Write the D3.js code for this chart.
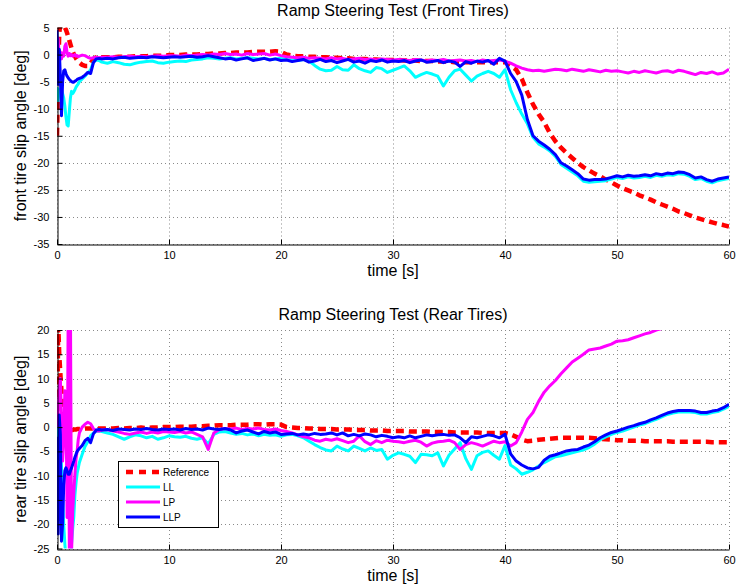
<!DOCTYPE html>
<html>
<head>
<meta charset="utf-8">
<script src="https://cdn.jsdelivr.net/npm/d3@7/dist/d3.min.js"></script>
<style>
  body { margin: 0; background: #fff; }
  svg text { font-family: "Liberation Sans", Arial, Helvetica, sans-serif; fill: #000; }
</style>
</head>
<body>
<svg id="chart" width="736" height="586"></svg>
<script>
// Sample times [s]: dense during the start-up transient, then every 0.5 s
const time = [
  0, 0.1, 0.2, 0.3, 0.4, 0.5, 0.6, 0.7, 0.8, 0.9, 1.0, 1.1, 1.2, 1.3, 1.4, 1.5, 1.6, 1.7, 1.8, 1.9, 2.0,
  2.25, 2.5, 2.75, 3.0, 3.25, 3.5, 3.75, 4.0,
  4.5, 5, 5.5, 6, 6.5, 7, 7.5, 8, 8.5, 9, 9.5, 10,
  10.5, 11, 11.5, 12, 12.5, 13, 13.5, 14, 14.5, 15, 15.5, 16, 16.5, 17, 17.5, 18, 18.5, 19, 19.5, 20,
  20.5, 21, 21.5, 22, 22.5, 23, 23.5, 24, 24.5, 25, 25.5, 26, 26.5, 27, 27.5, 28, 28.5, 29, 29.5, 30,
  30.5, 31, 31.5, 32, 32.5, 33, 33.5, 34, 34.5, 35, 35.5, 36, 36.5, 37, 37.5, 38, 38.5, 39, 39.5, 40,
  40.5, 41, 41.5, 42, 42.5, 43, 43.5, 44, 44.5, 45, 45.5, 46, 46.5, 47, 47.5, 48, 48.5, 49, 49.5, 50,
  50.5, 51, 51.5, 52, 52.5, 53, 53.5, 54, 54.5, 55, 55.5, 56, 56.5, 57, 57.5, 58, 58.5, 59, 59.5, 60
];

// Front tire slip angle [deg]
const frontRef = [
  -15, -5, 4, 5.5, 5.5, 5.5, 5.3, 5, 4.6, 4, 3.3, 2.6, 1.9, 1.2, 0.6, 0.1, -0.3, -0.7, -1.0, -1.3, -1.5,
  -1.9, -2.1, -2.1, -1.6, -0.8, -0.5, -0.5, -0.5,
  -0.5, -0.5, -0.4, -0.4, -0.4, -0.3, -0.3, -0.3, -0.2, -0.2, -0.2, -0.1,
  -0.1, -0.1, 0, 0, 0, 0.1, 0.1, 0.2, 0.2, 0.3, 0.3, 0.4, 0.4, 0.4, 0.5, 0.5, 0.5, 0.5, 0.6, 0.5,
  0, -0.2, -0.3, -0.3, -0.4, -0.4, -0.5, -0.5, -0.6, -0.6, -0.7, -0.7, -0.8, -0.8, -0.8, -0.9, -0.9, -1.0, -1.0, -1.0,
  -1.0, -1.1, -1.1, -1.1, -1.2, -1.2, -1.2, -1.3, -1.3, -1.3, -1.4, -1.4, -1.4, -1.4, -1.4, -1.4, -1.4, -1.4, -1.4, -1.4,
  -2.0, -2.8, -4.5, -7.0, -9.2, -11.0, -12.5, -14.5, -16.0, -17.2, -18.2, -19.1, -20.0, -20.8, -21.4, -22.0, -22.5, -23.1, -23.6, -24.2,
  -24.7, -25.1, -25.5, -26.0, -26.4, -26.8, -27.3, -27.7, -28.1, -28.5, -29.0, -29.3, -29.7, -30.1, -30.4, -30.7, -31.0, -31.3, -31.5, -31.8
];
const frontLL = [
  -6, -8.5, -6.5, -7.5, -6.5, -7.2, -8.0, -9.5, -11.5, -13.0, -13.2, -10.5, -8.0, -6.8, -7.2, -6.9, -6.5, -6.0, -5.7, -5.4, -5.0,
  -4.5, -4.0, -3.4, -2.8, -1.4, -1.0, -1.1, -1.4,
  -1.6, -1.3, -1.5, -1.8, -1.9, -1.6, -1.4, -1.3, -1.2, -1.5, -1.6, -1.4,
  -1.3, -1.2, -1.3, -1.0, -0.9, -0.8, -0.6, -0.7, -0.8, -0.7, -0.6, -0.8, -0.7, -0.6, -0.7, -0.8, -0.7, -0.9, -0.8, -0.7,
  -0.9, -1.0, -1.1, -0.9, -1.2, -2.0, -2.7, -3.0, -2.9, -2.2, -2.8, -2.9, -1.9, -2.6, -3.0, -3.3, -2.4, -2.6, -3.3, -2.9,
  -2.5, -2.1, -3.0, -4.2, -3.7, -3.3, -3.6, -4.0, -5.8, -4.2, -3.0, -2.7, -3.8, -4.9, -4.0, -3.5, -3.1, -3.5, -4.2, -2.8,
  -6.5, -8.9, -11.0, -12.8, -15.3, -16.5, -17.1, -17.8, -18.8, -20.3, -21.0, -21.7, -22.4, -23.4, -23.6, -23.5, -23.4, -23.3, -23.0, -22.7,
  -22.9, -22.6, -22.8, -22.7, -22.5, -22.7, -22.3, -22.5, -22.2, -22.3, -22.0, -22.1, -22.5, -23.1, -22.9, -23.4, -23.7, -23.3, -23.1, -22.9
];
const frontLP = [
  1.0, 3.0, -0.5, 0.5, -0.8, 0.3, -0.3, 1.5, 2.0, 0.3, -0.3, 0.2, -0.2, 0.0, -0.3, -0.2, 0.0, -0.3, -0.2, -0.4, -0.3,
  -0.1, -0.2, -0.5, -0.7, -0.6, -0.5, -0.6, -0.5,
  -0.5, -0.4, -0.5, -0.4, -0.3, -0.4, -0.3, -0.4, -0.3, -0.2, -0.3, -0.2,
  -0.2, -0.3, -0.1, -0.2, -0.1, 0, -0.1, 0.1, 0, 0.2, 0, 0.1, -0.1, 0.2, 0, 0.1, 0.2, -0.1, 0.1, -0.2,
  -0.4, -0.5, -0.6, -0.5, -0.7, -0.6, -0.7, -0.8, -0.6, -0.8, -0.7, -0.9, -0.8, -0.7, -0.9, -0.8, -1.0, -0.8, -0.9, -1.0,
  -0.9, -1.0, -1.1, -0.9, -1.0, -1.2, -1.0, -1.1, -0.9, -1.2, -1.1, -1.0, -1.2, -1.1, -1.3, -1.0, -1.2, -1.1, -1.0, -1.2,
  -1.6, -2.1, -2.5, -2.8, -3.0, -2.9, -3.1, -2.9, -2.7, -2.8, -3.0, -2.7, -2.9, -3.1, -2.8, -3.0, -3.2, -2.9, -3.1, -3.0,
  -3.2, -3.4, -3.1, -3.3, -3.0, -3.2, -3.4, -3.1, -3.0, -3.3, -2.9, -3.1, -3.4, -3.7, -3.3, -3.5, -3.2, -3.6, -3.4, -2.7
];
const frontLLP = [
  4.5, -5.5, 1.0, -4.0, -11.3, -5.0, -3.0, -2.8, -3.5, -4.0, -4.3, -4.6, -4.8, -5.0, -5.1, -5.1, -4.9, -4.8, -4.6, -4.5, -4.4,
  -4.2, -3.8, -3.3, -3.5, -1.5, -0.8, -0.7, -0.8,
  -0.7, -0.8, -0.6, -0.5, -0.7, -0.6, -0.5, -0.6, -0.4, -0.5, -0.6, -0.5,
  -0.4, -0.5, -0.4, -0.3, -0.5, -0.4, -0.2, -0.4, -0.6, -0.8, -0.7, -1.0, -0.8, -0.6, -1.1, -0.9, -0.7, -1.0, -0.8, -1.1,
  -1.0, -1.3, -1.1, -0.9, -1.4, -1.2, -0.9, -1.3, -1.1, -1.5, -1.2, -0.9, -1.4, -1.2, -1.6, -1.1, -1.3, -1.0, -1.4, -1.2,
  -1.3, -1.1, -1.5, -1.2, -1.0, -1.4, -1.3, -1.1, -1.5, -1.2, -1.4, -2.2, -1.3, -1.6, -1.2, -1.4, -1.1, -1.8, -0.7, -1.2,
  -3.5, -5.0, -7.5, -12.0, -15.0, -16.0, -16.7, -17.5, -18.5, -20.0, -20.6, -21.3, -22.0, -23.0, -23.2, -23.1, -23.1, -23.0, -22.7, -22.4,
  -22.6, -22.3, -22.5, -22.4, -22.2, -22.4, -22.0, -22.2, -21.9, -22.0, -21.7, -21.8, -22.2, -22.8, -22.6, -23.1, -23.4, -23.0, -22.8, -22.6
];

// Rear tire slip angle [deg]
const rearRef = [
  -18, 22, 15, 11, 7.4, 3.5, 1.0, -0.3, -0.8, -0.9, -0.8, -0.7, -0.7, -0.6, -0.6, -0.5, -0.5, -0.5, -0.4, -0.4, -0.4,
  -0.4, -0.3, -0.3, -0.3, -0.3, -0.3, -0.3, -0.3,
  -0.3, -0.3, -0.2, -0.3, -0.2, -0.2, -0.1, -0.2, -0.1, -0.1, 0, 0,
  0, 0.1, 0.1, 0.1, 0.2, 0.2, 0.3, 0.3, 0.4, 0.4, 0.4, 0.5, 0.5, 0.5, 0.6, 0.6, 0.5, 0.6, 0.6, 0.5,
  0, -0.1, -0.2, -0.2, -0.3, -0.3, -0.4, -0.4, -0.4, -0.5, -0.5, -0.5, -0.6, -0.6, -0.6, -0.7, -0.7, -0.7, -0.8, -0.8,
  -0.8, -0.8, -0.9, -0.9, -0.9, -0.9, -1.0, -1.0, -1.0, -1.0, -1.1, -1.1, -1.1, -1.1, -1.1, -1.2, -1.2, -1.2, -1.2, -1.2,
  -1.5, -2.0, -2.6, -2.9, -2.8, -2.6, -2.5, -2.4, -2.3, -2.2, -2.2, -2.2, -2.2, -2.2, -2.2, -2.3, -2.4, -2.5, -2.6, -2.7,
  -2.7, -2.8, -2.8, -2.8, -2.9, -2.9, -2.9, -2.9, -2.9, -3.0, -3.0, -3.0, -3.0, -3.0, -3.0, -3.0, -3.1, -3.1, -3.1, -3.1
];
const rearLL = [
  1.0, -3.5, 2.0, -2.0, -8.0, -14.0, -20.0, -24.0, -27, -27, -27, -27, -27, -24.0, -21.0, -18.5, -14.0, -11.5, -9.5, -8.4, -7.3,
  -5.6, -4.0, -3.0, -1.8, -1.2, -0.9, -0.8, -0.9,
  -1.2, -1.5, -2.0, -2.5, -2.0, -1.6, -1.8, -2.2, -1.9, -2.5, -2.2, -1.8,
  -2.0, -2.1, -1.9, -2.3, -2.5, -2.2, -3.5, -1.5, -1.0, -0.9, -1.2, -1.5, -1.3, -1.6, -1.4, -1.8, -1.5, -1.7, -1.6, -1.9,
  -1.6, -1.5, -1.8, -2.2, -2.9, -3.6, -4.2, -4.7, -4.9, -3.9, -4.5, -4.9, -3.9, -4.4, -4.9, -4.3, -4.8, -4.6, -6.6, -5.8,
  -5.3, -5.6, -6.0, -7.3, -5.6, -5.7, -5.9, -5.3, -8.0, -5.8, -4.5, -3.2, -6.5, -8.7, -5.9, -5.2, -4.9, -5.8, -6.6, -3.8,
  -7.8, -8.6, -9.7, -9.3, -8.8, -8.0, -7.3, -6.7, -6.1, -5.9, -5.6, -5.3, -5.0, -4.7, -4.2, -3.5, -2.6, -2.0, -1.5, -1.1,
  -0.8, -0.4, 0, 0.4, 0.7, 1.2, 1.6, 2.1, 2.6, 2.9, 3.1, 3.1, 3.1, 3.0, 2.7, 2.7, 3.0, 3.2, 3.7, 4.3
];
const rearLP = [
  0, 3.0, 8.0, 10.0, 2.0, -7.0, -3.0, 7.5, 6.0, -18.6, 25, -25, 25, -26, -17.3, -13.5, -9.7, -6.5, -4.9, -2.5, -1.2,
  0.0, 0.6, 1.0, 0.7, -0.3, -0.8, -0.8, -0.6,
  -0.5, -0.8, -1.0, -1.3, -1.5, -1.2, -1.0, -1.3, -1.0, -1.2, -0.9, -1.0,
  -1.1, -0.9, -1.2, -1.0, -1.5, -2.0, -4.6, -1.2, -0.5, -0.3, -0.4, -0.2, -0.5, -0.3, -0.4, -0.2, -0.5, -0.6, -0.4, -0.7,
  -0.9, -1.2, -1.6, -2.0, -2.2, -2.7, -2.9, -2.5, -2.7, -2.4, -2.8, -3.2, -2.9, -1.8, -3.0, -3.6, -2.8, -3.2, -2.7, -2.9,
  -3.0, -3.2, -2.9, -2.7, -3.1, -3.9, -3.3, -3.0, -2.9, -2.7, -3.2, -4.6, -3.6, -3.2, -3.5, -3.9, -3.4, -2.9, -3.2, -3.0,
  -3.9, -3.2, -1.0, 1.6, 3.0, 5.3, 7.2, 8.5, 9.6, 11.0, 12.2, 13.4, 14.2, 15.0, 15.9, 16.1, 16.3, 16.7, 17.1, 17.7,
  17.8, 18.0, 18.4, 18.8, 19.2, 19.5, 20.0, 20.3, 20.7, 21.0, 21.4, 21.7, 22.0, 22.4, 22.7, 23.0, 23.3, 23.7, 24.0, 24.3
];
const rearLLP = [
  -2, -22, 2.5, -1.5, -23.5, -20, -12, -9, -8.4, -9, -9.7, -9.7, -9.0, -8.4, -7.7, -7.0, -6.2, -5.6, -5.0, -4.7, -4.4,
  -3.8, -2.8, -2.3, -3.2, -1.4, -0.6, -0.5, -0.6,
  -0.5, -0.7, -0.4, -0.5, -0.6, -0.4, -0.5, -0.3, -0.5, -0.6, -0.4, -0.5,
  -0.4, -0.6, -0.3, -0.5, -0.4, -0.6, -0.2, -0.4, -0.5, -0.3, -0.6, -1.2, -0.8, -0.6, -1.0, -1.4, -0.9, -1.2, -1.0, -1.5,
  -1.4, -1.3, -1.6, -1.4, -1.6, -1.3, -1.5, -1.4, -1.2, -1.6, -1.2, -1.8, -1.5, -1.8, -1.4, -1.6, -2.0, -1.7, -1.9, -2.2,
  -2.0, -2.2, -1.8, -2.2, -1.9, -1.6, -1.8, -1.6, -1.5, -1.7, -1.6, -2.2, -3.2, -2.0, -2.2, -1.9, -1.6, -1.8, -2.2, -1.5,
  -5.5, -7.0, -7.8, -8.4, -8.6, -8.3, -6.8, -6.0, -5.7, -5.3, -4.9, -4.7, -4.6, -4.1, -3.7, -3.0, -2.2, -1.6, -1.1, -0.8,
  -0.4, 0.0, 0.3, 0.7, 1.0, 1.5, 1.9, 2.4, 2.9, 3.2, 3.4, 3.4, 3.4, 3.3, 3.0, 3.0, 3.3, 3.5, 4.0, 4.7
];

// Axis ticks
const timeTicks = [0, 10, 20, 30, 40, 50, 60];
const frontTicks = [5, 0, -5, -10, -15, -20, -25, -30, -35];
const rearTicks = [20, 15, 10, 5, 0, -5, -10, -15, -20, -25];

// Legend entries, in drawing order
const seriesNames = ["Reference", "LL", "LP", "LLP"];
const seriesColors = ["#ff0000", "#00ffff", "#ff00ff", "#0000ff"];

const svg = d3.select("#chart");
const left = 57, right = 729;

const x = d3.scaleLinear().domain([0, 60]).range([left, right]);

const panels = [
  {
    id: "front", title: "Ramp Steering Test (Front Tires)", ylabel: "front tire slip angle [deg]",
    yDomain: [-35, 5], yTicks: frontTicks, top: 27.5, bottom: 244,
    data: [frontRef, frontLL, frontLP, frontLLP], titleY: 16
  },
  {
    id: "rear", title: "Ramp Steering Test (Rear Tires)", ylabel: "rear tire slip angle [deg]",
    yDomain: [-25, 20], yTicks: rearTicks, top: 330, bottom: 548.5,
    data: [rearRef, rearLL, rearLP, rearLLP], titleY: 320
  }
];

panels.forEach(p => {
  const y = d3.scaleLinear().domain(p.yDomain).range([p.bottom, p.top]);
  const g = svg.append("g");

  g.append("clipPath").attr("id", "clip-" + p.id)
    .append("rect")
    .attr("x", left).attr("y", p.top)
    .attr("width", right - left).attr("height", p.bottom - p.top);

  // dotted grid
  const grid = g.append("g").attr("stroke", "#8a8a8a").attr("stroke-width", 1)
    .attr("stroke-dasharray", "1,3");
  grid.selectAll("line.gx").data(timeTicks).join("line")
    .attr("x1", d => Math.round(x(d)) + 0.5).attr("x2", d => Math.round(x(d)) + 0.5)
    .attr("y1", p.top).attr("y2", p.bottom);
  grid.selectAll("line.gy").data(p.yTicks).join("line")
    .attr("y1", d => Math.round(y(d)) + 0.5).attr("y2", d => Math.round(y(d)) + 0.5)
    .attr("x1", left).attr("x2", right);

  // data lines
  const lines = g.append("g").attr("clip-path", `url(#clip-${p.id})`);
  const lineGen = d3.line().x((d, i) => x(time[i])).y(d => y(d));
  p.data.forEach((vals, k) => {
    const path = lines.append("path")
      .datum(vals)
      .attr("d", lineGen)
      .attr("fill", "none")
      .attr("stroke", seriesColors[k])
      .attr("stroke-linejoin", "round");
    if (k === 0) {
      path.attr("stroke-width", 4.5).attr("stroke-dasharray", "8,5");
    } else {
      path.attr("stroke-width", 3);
    }
  });

  // axes (ticks point inward)
  const xAxis = d3.axisBottom(x).tickValues(timeTicks).tickSizeInner(-5).tickSizeOuter(0)
    .tickPadding(7).tickFormat(d3.format("d"));
  const xg = g.append("g").attr("transform", `translate(0,${Math.round(p.bottom) + 0.5})`).call(xAxis);
  const yAxis = d3.axisLeft(y).tickValues(p.yTicks).tickSizeInner(-5).tickSizeOuter(0)
    .tickPadding(8).tickFormat(d => d < 0 ? "-" + Math.abs(d) : String(d));
  const yg = g.append("g").attr("transform", `translate(${left + 0.5},0)`).call(yAxis);
  [xg, yg].forEach(a => {
    a.selectAll("path.domain").attr("stroke", "#000").attr("stroke-width", 1);
    a.selectAll(".tick line").attr("stroke", "#000");
    a.selectAll(".tick text").attr("font-size", 11).attr("fill", "#000")
      .attr("font-family", '"Liberation Sans", Arial, sans-serif');
  });

  // titles and labels
  g.append("text").attr("x", (left + right) / 2).attr("y", p.titleY)
    .attr("text-anchor", "middle").attr("font-size", 16).text(p.title);
  g.append("text").attr("x", (left + right) / 2).attr("y", p.bottom + 32)
    .attr("text-anchor", "middle").attr("font-size", 16).text("time [s]");
  g.append("text")
    .attr("transform", `translate(26,${(p.top + p.bottom) / 2}) rotate(-90)`)
    .attr("text-anchor", "middle").attr("font-size", 16).text(p.ylabel);
});

// legend in the rear panel
const lg = svg.append("g");
lg.append("rect").attr("x", 118.5).attr("y", 461.5).attr("width", 100).attr("height", 66)
  .attr("fill", "#fff").attr("stroke", "#000").attr("stroke-width", 1);
seriesNames.forEach((name, k) => {
  const yy = 472 + k * 15;
  const ln = lg.append("line").attr("x1", 126).attr("x2", 160).attr("y1", yy).attr("y2", yy)
    .attr("stroke", seriesColors[k]);
  if (k === 0) ln.attr("stroke-width", 4.5).attr("stroke-dasharray", "7,6");
  else ln.attr("stroke-width", 3);
  lg.append("text").attr("x", 163).attr("y", yy + 4).attr("font-size", 10).text(name);
});
</script>
</body>
</html>
